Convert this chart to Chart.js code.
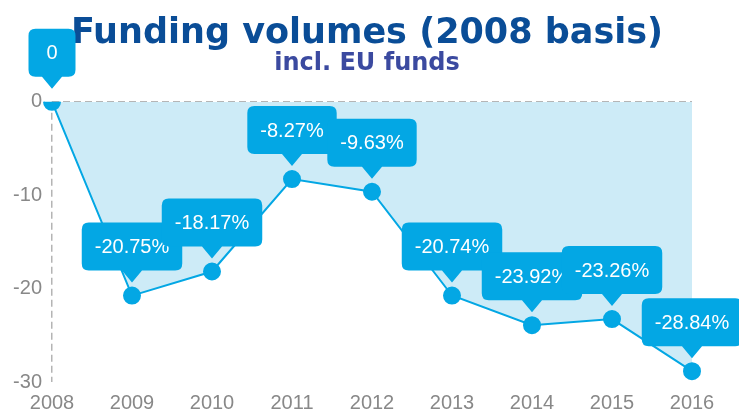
<!DOCTYPE html>
<html>
<head>
<meta charset="utf-8">
<script src="https://cdn.jsdelivr.net/npm/chart.js@4"></script>
<style>
  body { margin: 0; background: #fff; }
  #wrap { width: 739px; height: 412px; }
</style>
</head>
<body>
<div id="wrap"><canvas id="chart"></canvas></div>
<script>
var years = ['2008', '2009', '2010', '2011', '2012', '2013', '2014', '2015', '2016'];
var volumes = [0, -20.75, -18.17, -8.27, -9.63, -20.74, -23.92, -23.26, -28.84];
var calloutTexts = ['0', '-20.75%', '-18.17%', '-8.27%', '-9.63%', '-20.74%', '-23.92%', '-23.26%', '-28.84%'];
var yTicks = [0, -10, -20, -30];

var blue = '#03a7e4';

// rounded box with a little arrow pointing down at each point
var callouts = {
    id: 'callouts',
    afterDatasetsDraw: function(chart) {
        var ctx = chart.ctx;
        var meta = chart.getDatasetMeta(0);
        ctx.save();
        ctx.font = '20px "Liberation Sans", Arial, sans-serif';
        ctx.textAlign = 'center';
        ctx.textBaseline = 'middle';
        meta.data.forEach(function(pt, i) {
            var text = calloutTexts[i];
            var w = Math.max(ctx.measureText(text).width + 26, 47);
            var h = 48;
            var x = pt.x;
            var tip = pt.y - 13;
            var bottom = tip - 12;
            var top = bottom - h;
            var left = x - w / 2;
            var r = 7;
            ctx.fillStyle = blue;
            ctx.beginPath();
            ctx.moveTo(left + r, top);
            ctx.lineTo(left + w - r, top);
            ctx.quadraticCurveTo(left + w, top, left + w, top + r);
            ctx.lineTo(left + w, bottom - r);
            ctx.quadraticCurveTo(left + w, bottom, left + w - r, bottom);
            ctx.lineTo(x + 10, bottom);
            ctx.lineTo(x, tip);
            ctx.lineTo(x - 10, bottom);
            ctx.lineTo(left + r, bottom);
            ctx.quadraticCurveTo(left, bottom, left, bottom - r);
            ctx.lineTo(left, top + r);
            ctx.quadraticCurveTo(left, top, left + r, top);
            ctx.closePath();
            ctx.fill();
            ctx.fillStyle = '#fff';
            ctx.fillText(text, x, top + h / 2 + 1);
        });
        ctx.restore();
    }
};

var ctx = document.getElementById('chart').getContext('2d');
var chart = new Chart(ctx, {
    type: 'line',
    data: {
        labels: years,
        datasets: [{
            data: volumes,
            fill: 'origin',
            backgroundColor: '#cdebf7',
            borderColor: blue,
            borderWidth: 2,
            tension: 0,
            pointRadius: 8,
            pointHoverRadius: 8,
            pointBackgroundColor: blue,
            pointBorderColor: blue
        }]
    },
    options: {
        responsive: true,
        maintainAspectRatio: false,
        animation: false,
        events: [],
        layout: { padding: { left: 0, right: 5, bottom: -12 } },
        plugins: {
            legend: { display: false },
            tooltip: { enabled: false },
            title: {
                display: true,
                text: 'Funding volumes (2008 basis)',
                color: '#0a4d97',
                font: { family: '"DejaVu Sans", sans-serif', size: 35, weight: 'bold' },
                padding: { top: 13, bottom: 0 }
            },
            subtitle: {
                display: true,
                text: 'incl. EU funds',
                color: '#3b4aa0',
                font: { family: '"DejaVu Sans", sans-serif', size: 24, weight: 'bold' },
                padding: { top: -6, bottom: 24 }
            }
        },
        scales: {
            x: {
                offset: false,
                grid: {
                    drawTicks: false,
                    lineWidth: 1.5,
                    color: function(c) { return c.index === 0 ? '#b4b4b4' : 'transparent'; }
                },
                border: { display: false, dash: [7, 4] },
                ticks: {
                    color: '#888',
                    padding: 9,
                    font: { family: '"Liberation Sans", Arial, sans-serif', size: 20 }
                }
            },
            y: {
                min: -30,
                max: 0,
                afterFit: function(axis) { axis.width = 52; },
                afterBuildTicks: function(axis) {
                    axis.ticks = yTicks.map(function(v) { return { value: v }; });
                },
                grid: {
                    drawTicks: false,
                    lineWidth: 1.5,
                    color: function(c) { return c.tick && c.tick.value === 0 ? '#b4b4b4' : 'transparent'; }
                },
                border: { display: false, dash: [7, 4] },
                ticks: {
                    color: '#888',
                    padding: 10,
                    font: { family: '"Liberation Sans", Arial, sans-serif', size: 20 }
                }
            },
            // empty axis on the right, just to leave room for the last callout
            yRight: {
                position: 'right',
                min: -30,
                max: 0,
                afterFit: function(axis) { axis.width = 42; },
                grid: { display: false },
                border: { display: false },
                ticks: { display: false }
            }
        }
    },
    plugins: [callouts]
});
</script>
</body>
</html>
